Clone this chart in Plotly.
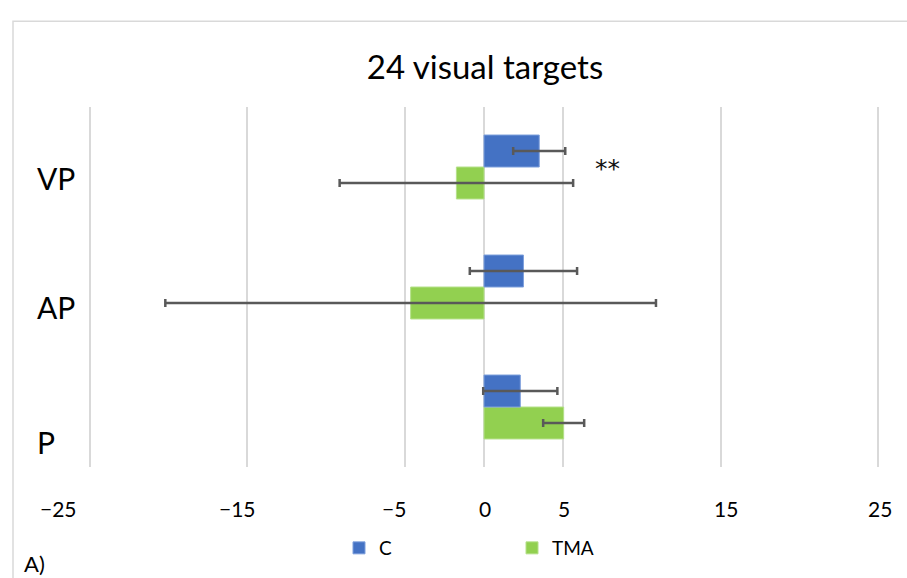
import plotly.graph_objects as go

# Mean difference per condition, with error half-widths
categories = ["VP", "AP", "P"]
c_means = [3.5, 2.5, 2.3]
c_err = [1.65, 3.4, 2.35]
tma_means = [-1.75, -4.65, 5.05]
tma_err = [7.4, 15.55, 1.3]

tick_values = [-25, -15, -5, 0, 5, 15, 25]
tick_labels = ["\u221225", "\u221215", "\u22125", "0", "5", "15", "25"]
# horizontal nudge (px) of each axis label relative to its gridline
tick_label_shift = [-31, -10, -11, 1, 1, 5, 2]

FONT = "Lato"
BLUE = "#4472C4"
GREEN = "#92D050"
ERR = "#595959"
GRID = "#d9d9d9"

L, R, T, B = 88, 27, 107, 110
PW, PH = 907 - L - R, 578 - T - B

fig = go.Figure()

fig.add_trace(go.Bar(
    name="TMA", y=categories, x=tma_means, orientation="h",
    marker=dict(color=GREEN, line=dict(color="#b5e08a", width=1)),
    error_x=dict(type="data", array=tma_err, visible=True,
                 color=ERR, thickness=2.5, width=4),
))
fig.add_trace(go.Bar(
    name="C", y=categories, x=c_means, orientation="h",
    marker=dict(color=BLUE, line=dict(color="#7d9fdc", width=1)),
    error_x=dict(type="data", array=c_err, visible=True,
                 color=ERR, thickness=2.5, width=4),
))

annotations = []
# x-axis labels
for v, t, s in zip(tick_values, tick_labels, tick_label_shift):
    annotations.append(dict(x=v, y=(T + PH - 510) / PH, xref="x", yref="paper", text=t,
                            xshift=s, showarrow=False, xanchor="center", yanchor="middle",
                            font=dict(family=FONT, size=21, color="#000")))
# category labels
for cat, ypx in zip(categories, [178, 308, 443]):
    annotations.append(dict(x=(35 - L) / PW, y=(T + PH - ypx) / PH, xref="paper", yref="paper",
                            text=cat, showarrow=False, xanchor="left", yanchor="middle",
                            font=dict(family=FONT, size=30, color="#000")))
# significance marker
annotations.append(dict(x=7.85, y="VP", xref="x", yref="y", yshift=-1, text="**",
                        showarrow=False,
                        font=dict(family="DejaVu Sans", size=25, color="#111")))
# panel letter
annotations.append(dict(x=(22 - L) / PW, y=(T + PH - 565) / PH, xref="paper", yref="paper",
                        text="A)", showarrow=False, xanchor="left", yanchor="middle",
                        font=dict(family=FONT, size=22, color="#000")))

fig.update_layout(
    width=907, height=578,
    margin=dict(l=L, r=R, t=T, b=B),
    paper_bgcolor="white", plot_bgcolor="white",
    title=dict(text="24 visual targets", x=485 / 907, xanchor="center",
               y=1 - 67 / 578, yanchor="middle",
               font=dict(family=FONT, size=33, color="#000")),
    barmode="group", bargap=0.467, bargroupgap=0,
    xaxis=dict(range=[-25.1, 25.1], tickvals=tick_values, showticklabels=False,
               showgrid=True, gridcolor=GRID, gridwidth=2,
               zeroline=True, zerolinecolor=GRID, zerolinewidth=2,
               showline=False, ticks=""),
    yaxis=dict(categoryorder="array", categoryarray=categories[::-1],
               range=[-0.5, 2.5], showticklabels=False, showgrid=False,
               zeroline=False, ticks=""),
    legend=dict(orientation="h", traceorder="reversed",
                x=(339 - L) / PW, xanchor="left", y=(T + PH - 548) / PH, yanchor="middle",
                entrywidth=128, font=dict(family=FONT, size=19, color="#000"),
                itemwidth=30),
    annotations=annotations,
    shapes=[dict(type="rect", xref="paper", yref="paper",
                 x0=(13 - L) / PW, x1=(920 - L) / PW,
                 y0=(T + PH - 600) / PH, y1=(T + PH - 21) / PH,
                 line=dict(color=GRID, width=1.5), layer="below")],
)

fig.write_html("out.html")
